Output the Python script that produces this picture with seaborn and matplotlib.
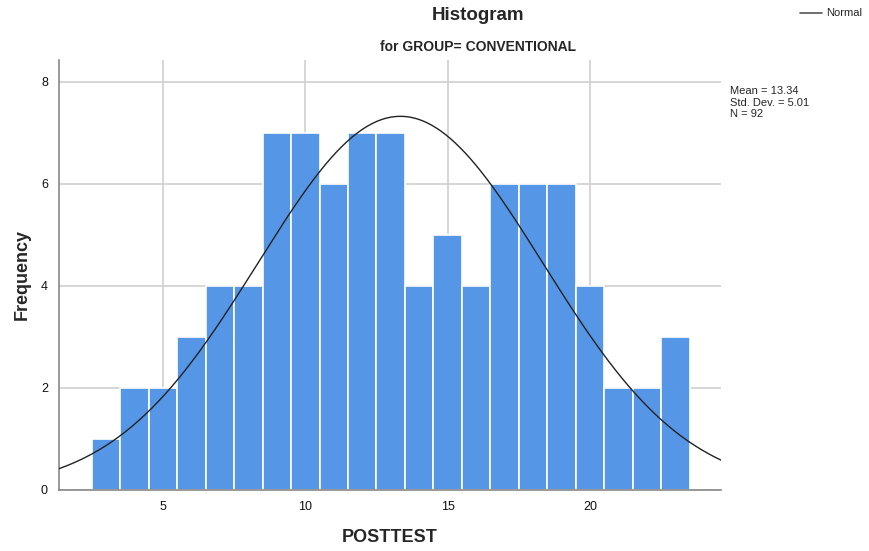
import numpy as np
import pandas as pd
import matplotlib
matplotlib.use("Agg")
import matplotlib.pyplot as plt
import seaborn as sns

# Data
bin_centers = [3, 4, 5, 6, 7, 8, 9, 10, 11, 12, 13, 14, 15, 16, 17, 18, 19, 20, 21, 22, 23]
counts = [1, 2, 2, 3, 4, 4, 7, 7, 6, 7, 7, 4, 5, 4, 6, 6, 6, 4, 2, 2, 3]
mean_val = 13.34
std_val = 5.01
n_val = 92
x_ticks = [5, 10, 15, 20]
y_ticks = [0, 2, 4, 6, 8]

sns.set_style("white")
plt.rcParams['font.family'] = ['Liberation Sans', 'DejaVu Sans']

fig = plt.figure(figsize=(8.69, 5.51), dpi=100)
ax = fig.add_axes([59/869, 61/551, (721-59)/869, (490-60)/551])

df = pd.DataFrame({"POSTTEST": bin_centers, "count": counts})
sns.histplot(data=df, x="POSTTEST", weights="count", binwidth=1, binrange=(2.5, 23.5), ax=ax,
             color="#5596e6", alpha=1.0, edgecolor="white", linewidth=1.2, zorder=2)

xlim = (1.35, 24.6)
xs = np.linspace(xlim[0], xlim[1], 400)
pdf = n_val * 1.0 / (std_val * np.sqrt(2 * np.pi)) * np.exp(-0.5 * ((xs - mean_val) / std_val) ** 2)
sns.lineplot(x=xs, y=pdf, ax=ax, color="#222222", linewidth=1.0, zorder=3)

ax.set_xlim(*xlim)
ax.set_ylim(0, 8.43)
ax.set_xticks(x_ticks)
ax.set_yticks(y_ticks)
ax.grid(True, color="#d0d0d0", linewidth=1.2, zorder=0)
ax.set_axisbelow(True)
for s in ["top", "right"]:
    ax.spines[s].set_visible(False)
for s in ["left", "bottom"]:
    ax.spines[s].set_color("#888888")
    ax.spines[s].set_linewidth(1.2)
ax.tick_params(axis="both", length=0, labelsize=9, colors="#111111", pad=8)

ax.set_xlabel("POSTTEST", fontsize=13, fontweight="bold")
ax.set_ylabel("Frequency", fontsize=13, fontweight="bold")
ax.xaxis.set_label_coords(0.5, (490 - 537) / 430, transform=ax.transAxes)
ax.xaxis.label.set_va("center")
ax.yaxis.set_label_coords((22 - 59) / 662, 0.5, transform=ax.transAxes)
ax.yaxis.label.set_va("center")

fig.text(478/869, 1 - 16/551, "Histogram", ha="center", va="center", fontsize=13.5, fontweight="bold")
fig.text(478/869, 1 - 47/551, "for GROUP= CONVENTIONAL", ha="center", va="center", fontsize=10,
         fontweight="bold")

# legend
fig.add_artist(plt.Line2D([800/869, 822/869], [1 - 13/551, 1 - 13/551], color="#555555", linewidth=1.2))
fig.text(826/869, 1 - 13/551, "Normal", ha="left", va="center", fontsize=8)

fig.text(730/869, 1 - 86.5/551, f"Mean = {mean_val:.2f}\nStd. Dev. = {std_val:.2f}\nN = {n_val}",
         ha="left", va="top", fontsize=8, linespacing=1.15)

fig.savefig("out.png", dpi=100)
